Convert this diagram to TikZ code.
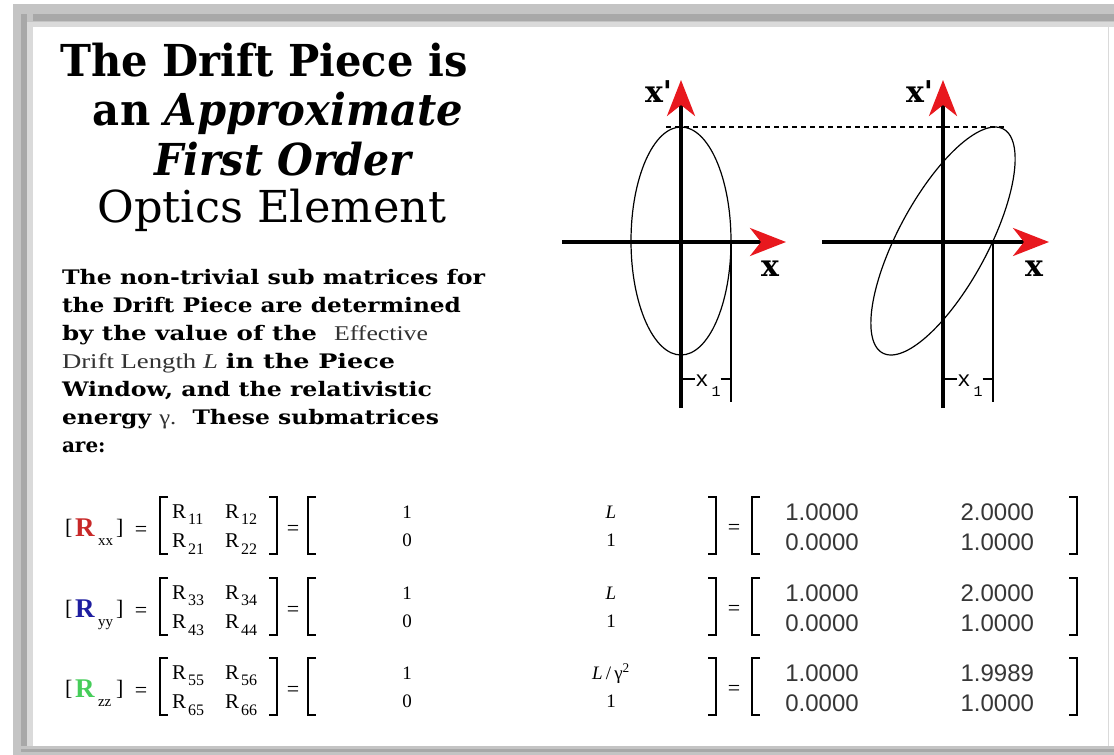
\documentclass[tikz,border=0pt]{standalone}
\usepackage{fontspec}
\setmainfont{DejaVu Serif}
\newfontfamily\axf{DejaVu Serif}
\newfontfamily\lsr{Liberation Serif}
\newfontfamily\lss{Liberation Sans}
\newfontfamily\lsm{Liberation Mono}
\usetikzlibrary{arrows.meta}
\definecolor{rR}{RGB}{200,40,40}
\definecolor{rB}{RGB}{30,30,160}
\definecolor{rG}{RGB}{70,205,90}
\definecolor{arr}{RGB}{232,24,30}
\definecolor{fr1}{RGB}{196,196,196}
\definecolor{fr2}{RGB}{168,168,168}
\definecolor{fr3}{RGB}{218,218,218}
\definecolor{numc}{RGB}{55,55,55}
\newcommand\fs[1]{\fontsize{#1}{#1}\selectfont}
\newcommand\fitw[2]{\resizebox{#1}{\height}{#2}}
\newcommand\lbrk[3]{\draw[brk] ({#1+8},{#2}) -- ({#1},{#2}) -- ({#1},{#3}) -- ({#1+8},{#3});}
\newcommand\rbrk[3]{\draw[brk] ({#1-8},{#2}) -- ({#1},{#2}) -- ({#1},{#3}) -- ({#1-8},{#3});}
% #1 centre y, #2 colour, #3 subscript, #4 first index, #5 second index, #6 L entry, #7 value, #8 tag
\newcommand\mrow[8]{%
  \node[txt,anchor=base west] (ob#8) at (65,{#1+9}) {\lsr\fs{22}[};
  \node[txt,anchor=base west] (R#8) at (75,{#1+11}) {\lsr\fs{27}\bfseries\color{#2}R};
  \node[txt,anchor=base west] (sb#8) at (98,{#1+20}) {\lsr\fs{15}#3};
  \node[txt,anchor=base west] (cb#8) at (116,{#1+9}) {\lsr\fs{22}]};
  \node[txt,anchor=base] (eqa#8) at (141,{#1+11}) {\lsr\fs{22}=};
  \lbrk{160}{#1-28}{#1+29}
  \node[txt,anchor=base west] (ra#8) at (172,{#1-7}) {\lsr\fs{21}R\kern2pt\raisebox{-6pt}{\fs{16}#4#4}};
  \node[txt,anchor=base west] (rb#8) at (225,{#1-7}) {\lsr\fs{21}R\kern2pt\raisebox{-6pt}{\fs{16}#4#5}};
  \node[txt,anchor=base west] (rc#8) at (172,{#1+22}) {\lsr\fs{21}R\kern2pt\raisebox{-7pt}{\fs{16}#5#4}};
  \node[txt,anchor=base west] (rd#8) at (225,{#1+22}) {\lsr\fs{21}R\kern2pt\raisebox{-7pt}{\fs{16}#5#5}};
  \rbrk{277}{#1-28}{#1+29}
  \node[txt,anchor=base] (eqb#8) at (293,{#1+10}) {\lsr\fs{22}=};
  \lbrk{308}{#1-28}{#1+29}
  \node[txt,anchor=base] (ea#8) at (407,{#1-7}) {\lsr\fs{19}1};
  \node[txt,anchor=base] (ec#8) at (407,{#1+21}) {\lsr\fs{19}0};
  \node[txt,anchor=base] (eb#8) at (611,{#1-7}) {\lsr\fs{19}#6};
  \node[txt,anchor=base] (ed#8) at (611,{#1+21}) {\lsr\fs{19}1};
  \rbrk{716}{#1-28}{#1+29}
  \node[txt,anchor=base] (eqc#8) at (734,{#1+9}) {\lsr\fs{22}=};
  \lbrk{752}{#1-28}{#1+29}
  \node[txt,anchor=base,text=numc] (na#8) at (822,{#1-5}) {\lss\fs{24}1.0000};
  \node[txt,anchor=base,text=numc] (nc#8) at (822,{#1+25}) {\lss\fs{24}0.0000};
  \node[txt,anchor=base east,text=numc] (nb#8) at (1034,{#1-5}) {\lss\fs{24}#7};
  \node[txt,anchor=base east,text=numc] (nd#8) at (1034,{#1+25}) {\lss\fs{24}1.0000};
  \rbrk{1077}{#1-28}{#1+29}
}
\begin{document}
\begin{tikzpicture}[x=1pt,y=-1pt,
  txt/.style={inner sep=0pt,outer sep=0pt},
  axln/.style={line width=3.6pt,-{Stealth[length=36pt,width=28pt,inset=11pt,color=arr,fill=arr]}},
  xline/.style={line width=1.2pt},
  ellp/.style={line width=1.2pt},
  dashl/.style={line width=1.1pt,dash pattern=on 5pt off 4pt},
  brk/.style={line width=1.4pt},
  axlab/.style={txt,font=\axf\fs{30}\bfseries},
  x1lab/.style={txt,font=\lsm\fs{22}}]
\useasboundingbox (0,0) rectangle (1114,755);
% frame
\fill[white] (0,0) rectangle (1114,755);
\fill[fr1] (13,4) rectangle (1114,27);
\fill[fr2] (13,14) rectangle (1114,21);
\fill[fr3] (28,22) rectangle (1114,27);
\fill[fr1] (13,4) rectangle (33,755);
\fill[fr2] (21,14) rectangle (27,755);
\fill[fr3] (27,22) rectangle (33,746);
\fill[fr1] (13,746) rectangle (1114,755);
\fill[fr2] (21,749) rectangle (1114,752);
\draw[fr3,line width=1pt] (1108,27) -- (1108,746);
% title
\node[txt,anchor=base] (t1) at (264,76) {\fitw{407pt}{\fs{44}\bfseries The Drift Piece is}};
\node[txt,anchor=base] (t2) at (278,125) {\fitw{370pt}{\fs{44}\bfseries an \itshape Approximate}};
\node[txt,anchor=base] (t3) at (283,175) {\fitw{257pt}{\fs{44}\bfseries\itshape First Order}};
\node[txt,anchor=base] (t4) at (272,222) {\fitw{349pt}{\fs{44}Optics Element}};
% paragraph
\node[txt,anchor=base west] (p1) at (62,284) {\fitw{423pt}{\fs{20}\bfseries The non-trivial sub matrices for}};
\node[txt,anchor=base west] (p2) at (62,312) {\fitw{399pt}{\fs{20}\bfseries the Drift Piece are determined}};
\node[txt,anchor=base west] (p3) at (62,340) {\fitw{366pt}{\fs{20}\bfseries by the value of the\ \ {\lsr\mdseries\color{black!80}\fs{21}Effective}}};
\node[txt,anchor=base west] (p4) at (62,368) {\fitw{333pt}{\fs{20}{\lsr\mdseries\color{black!80}\fs{21}Drift Length \textit{L}} \bfseries in the Piece}};
\node[txt,anchor=base west] (p5) at (62,396) {\fitw{370pt}{\fs{20}\bfseries Window, and the relativistic}};
\node[txt,anchor=base west] (p6) at (62,424) {\fitw{377pt}{\fs{20}\bfseries energy {\lsr\mdseries\color{black!80}\fs{21}γ.}\ \ These submatrices}};
\node[txt,anchor=base west] (p7) at (62,452) {\fs{20}\bfseries are:};
% left phase-space diagram
\coordinate (LB) at (681,408);
\coordinate (LT) at (681,80);
\coordinate (LL) at (562,242);
\coordinate (LR) at (786,242);
\coordinate (LC) at (681,241);
\draw[ellp] (LC) ellipse [x radius=50, y radius=114];
\draw[axln] (LB) -- (LT);
\draw[axln] (LL) -- (LR);
\coordinate (LX1a) at (731,242);
\coordinate (LX1b) at (731,402);
\draw[xline] (LX1a) -- (LX1b);
\node[axlab,anchor=base west] (xpl) at (645,102) {x'};
\node[axlab,anchor=base] (xl) at (770,276) {x};
\node[x1lab,anchor=base] (x1l) at (702,386) {x};
\node[txt,anchor=base,font=\lsm\fs{15}] (s1l) at (716,396) {1};
\coordinate (LB1) at (681,379);
\coordinate (LB2) at (731,379);
\draw[xline] (LB1) -- (x1l.west |- LB1);
\draw[xline] (s1l.east |- LB2) -- (LB2);
% right phase-space diagram
\coordinate (RB) at (943,408);
\coordinate (RT) at (943,80);
\coordinate (RL) at (822,242);
\coordinate (RR) at (1049,242);
\draw[ellp] plot[domain=0:360,samples=140,smooth cycle] ({943+50*cos(\x)+52*sin(\x)},{241-114*sin(\x)});
\draw[axln] (RB) -- (RT);
\draw[axln] (RL) -- (RR);
\coordinate (RX1a) at (993,242);
\coordinate (RX1b) at (993,402);
\draw[xline] (RX1a) -- (RX1b);
\node[axlab,anchor=base west] (xpr) at (906,102) {x'};
\node[axlab,anchor=base] (xr) at (1034,276) {x};
\node[x1lab,anchor=base] (x1r) at (964,386) {x};
\node[txt,anchor=base,font=\lsm\fs{15}] (s1r) at (978,396) {1};
\coordinate (RB1) at (943,379);
\coordinate (RB2) at (993,379);
\draw[xline] (RB1) -- (x1r.west |- RB1);
\draw[xline] (s1r.east |- RB2) -- (RB2);
% dashed line between ellipse tops
\coordinate (DA) at (666,127);
\coordinate (DB) at (1006,127);
\draw[dashl] (DA) -- (DB);
% matrices
\mrow{525}{rR}{xx}{1}{2}{\textit{L}}{2.0000}{x}
\mrow{606}{rB}{yy}{3}{4}{\textit{L}}{2.0000}{y}
\mrow{686}{rG}{zz}{5}{6}{\textit{L}\,/\,γ\textsuperscript{2}}{1.9989}{z}
\end{tikzpicture}
\end{document}
